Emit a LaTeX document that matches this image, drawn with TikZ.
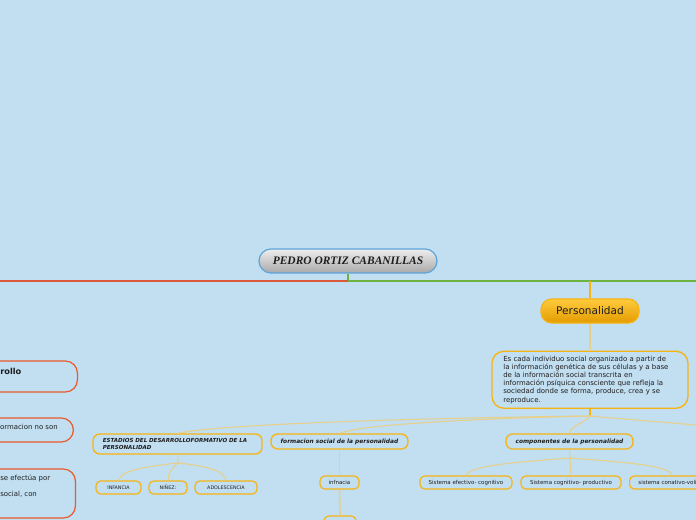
\documentclass[tikz,border=0pt]{standalone}
\usepackage{fontspec}
\setmainfont{DejaVu Sans}
\newfontfamily\rootfont{Liberation Serif}
\usetikzlibrary{positioning}
\definecolor{mmbg}{HTML}{C2DEF1}
\definecolor{mmroot}{HTML}{5BA3DB}
\definecolor{mmroottop}{HTML}{EEEEEE}
\definecolor{mmrootbot}{HTML}{A9A9A9}
\definecolor{mmred}{HTML}{DC5A3C}
\definecolor{mmgreen}{HTML}{6DB33F}
\definecolor{mmgold}{HTML}{F6B412}
\definecolor{mmperstop}{HTML}{FFCB3D}
\definecolor{mmpersbot}{HTML}{E39B00}
\definecolor{mmtwig}{HTML}{E6D08A}
\definecolor{mmside}{HTML}{E85A2C}
\definecolor{mmtext}{HTML}{1E1E1E}

\begin{document}
\begin{tikzpicture}[
  x=0.75pt, y=-0.75pt,
  text=mmtext,
  rootbox/.style = {draw=mmroot, line width=0.9pt, rounded corners=9pt,
                    top color=mmroottop, bottom color=mmrootbot,
                    minimum width=133.5pt, minimum height=18pt, inner sep=0pt,
                    font=\rootfont\fontsize{8.6}{10}\selectfont\bfseries\itshape},
  mainbox/.style = {draw=mmgold, line width=0.9pt, rounded corners=8pt,
                    top color=mmperstop, bottom color=mmpersbot,
                    minimum width=73.5pt, minimum height=18pt, inner sep=0pt,
                    font=\fontsize{7.9}{9}\selectfont},
  descbox/.style = {draw=mmgold, line width=1pt, rounded corners=9pt,
                    minimum width=147pt, minimum height=42.75pt, inner sep=0pt,
                    text width=130pt, align=left,
                    font=\fontsize{5.2}{6.1}\selectfont},
  topicbox/.style = {draw=mmgold, line width=1pt, rounded corners=5pt,
                     minimum height=11.25pt, inner sep=0pt,
                     font=\fontsize{4.4}{4.6}\selectfont\bfseries\itshape},
  leafbox/.style = {draw=mmgold, line width=0.9pt, rounded corners=3.5pt,
                    minimum height=9.75pt, inner sep=0pt,
                    font=\fontsize{4.1}{5}\selectfont},
  capsleaf/.style = {leafbox, font=\fontsize{3.6}{5}\selectfont},
  sidebox/.style = {draw=mmside, line width=0.9pt, rounded corners=9pt, inner sep=0pt},
  sidetext/.style = {inner sep=0pt, font=\fontsize{5.2}{6}\selectfont},
  trunk/.style = {line width=1.6pt},
  twig/.style = {draw=mmtwig, line width=0.8pt},
  stub/.style = {draw=mmgold, line width=1.1pt},
]
\useasboundingbox (0,0) rectangle (696,520);
\clip (0,0) rectangle (696,520);
\fill[mmbg] (0,0) rectangle (696,520);

% ---------- central topic ----------
\node[rootbox] (root) at (348,261) {PEDRO ORTIZ CABANILLAS};
\coordinate (fork) at (348,281);
\coordinate (westend) at (0,281);
\coordinate (eastend) at (696,281);
\coordinate (persjoin) at (590,281);

% ---------- personalidad branch ----------
\node[mainbox] (pers) at (590,311) {Personalidad};
\node[descbox, below=20.25pt of pers] (desc) {Es cada individuo social organizado a partir de\\
la información genética de sus células y a base\\
de la información social transcrita en\\
información psíquica consciente que refleja la\\
sociedad donde se forma, produce, crea y se\\
reproduce.};
\coordinate (descfork) at (590,416);
\coordinate (eastfar) at (724,428);

\node[topicbox, minimum width=126.75pt, minimum height=15pt, text width=112pt, align=left,
      font=\fontsize{4.15}{4.6}\selectfont\bfseries\itshape] (stages) at (177.5,444)
  {ESTADIOS DEL DESARROLLOFORMATIVO DE LA\\ PERSONALIDAD};
\node[topicbox, minimum width=102.75pt] (social) at (339.5,441.5) {formacion social de la personalidad};
\node[topicbox, minimum width=95.25pt] (parts) at (569.5,441.5) {componentes de la personalidad};

% ---------- leaves ----------
\node[capsleaf, minimum width=33.75pt] (infancy) at (118.5,487.5) {INFANCIA};
\node[capsleaf, minimum width=28.5pt] (childhood) at (168,487.5) {NIÑEZ:};
\node[capsleaf, minimum width=46.5pt] (youth) at (226,487.5) {ADOLESCENCIA};
\node[leafbox, minimum width=29.25pt] (socleaf) at (339.5,482.5) {infnacia};
\node[leafbox, minimum width=24pt, minimum height=10.5pt] (socnext) at (340,523) {};
\node[leafbox, minimum width=69pt] (affect) at (466,482.5) {Sistema efectivo- cognitivo};
\node[leafbox, minimum width=75pt] (cogn) at (571,482.5) {Sistema cognitivo- productivo};
\node[leafbox, minimum width=64.5pt, anchor=west] (conat) at (629,482.5) {sistema conativo-volitivo};

% ---------- left branch (cut by the page edge) ----------
\node[sidebox, anchor=east, minimum width=103.5pt, minimum height=23.25pt] (sidea) at (78,376.5) {};
\node[sidetext, anchor=west, font=\fontsize{6.2}{7}\selectfont\bfseries] (sideatxt) at (0,371.5) {rollo};
\node[sidebox, anchor=east, minimum width=90pt, minimum height=18pt] (sideb) at (74,430) {};
\node[sidetext, anchor=east] (sidebtxt) at (58,427) {formacion no son};
\node[sidebox, anchor=east, minimum width=100pt, minimum height=36.75pt] (sidec) at (76,493.5) {};
\node[sidetext, anchor=west] (sidectxt) at (0,478) {se efectúa por};
\node[sidetext, anchor=west] (sidedtxt) at (0,494.5) {social, con};

% ---------- connectors ----------
\draw[trunk, mmgreen] (root.south) -- (fork);
\draw[trunk, mmred] (fork) -- (westend);
\draw[trunk, mmgreen] (fork) -- (eastend);
\draw[trunk, mmgold] (persjoin) -- (pers.north);
\draw[twig] (pers.south) -- (desc.north);
\draw[stub] (desc.south) -- (descfork);

\draw[twig] (descfork) .. controls (420,418) and (220,424) .. (stages.north);
\draw[twig] (descfork) .. controls (460,419) and (360,425) .. (social.north);
\draw[twig] (descfork) .. controls (586,422) and (570,426) .. (parts.north);
\draw[twig] (descfork) .. controls (620,419) and (680,423) .. (eastfar);

% children of the stages topic
\coordinate (stagesfork) at (178,463);
\draw[twig] (stages.south) -- (stagesfork);
\draw[twig] (stagesfork) .. controls (150,466) and (120,470) .. (infancy.north);
\draw[twig] (stagesfork) .. controls (172,468) and (168,473) .. (childhood.north);
\draw[twig] (stagesfork) .. controls (205,466) and (224,470) .. (youth.north);

% social topic runs straight down
\draw[twig, line width=1.2pt] (social.south) -- (socleaf.north);
\draw[twig, line width=1.2pt] (socleaf.south) -- (socnext.north);

% children of the components topic
\coordinate (partsfork) at (570,458);
\draw[twig] (parts.south) -- (partsfork);
\draw[twig] (partsfork) .. controls (520,462) and (470,465) .. (affect.north);
\draw[twig] (partsfork) -- (cogn.north);
\draw[twig] (partsfork) .. controls (620,462) and (670,465) .. (conat.north -| 672,0);

\end{tikzpicture}
\end{document}
